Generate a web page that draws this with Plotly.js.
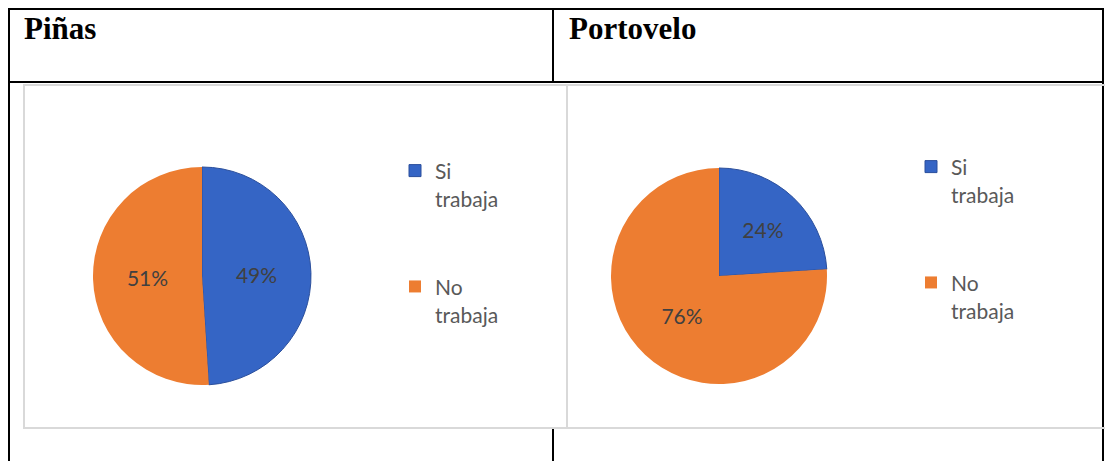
<!DOCTYPE html>
<html>
<head>
<meta charset="utf-8">
<script src="https://cdn.plot.ly/plotly-3.0.1.min.js"></script>
<style>
  html, body { margin: 0; padding: 0; background: #ffffff; }
  #chart { width: 1105px; height: 461px; }
</style>
</head>
<body>
<div id="chart"></div>
<script>
// ---- data ----
const headers = ["Piñas", "Portovelo"];
const categories = ["Si trabaja", "No trabaja"];
const pinasValues = [49, 51];
const portoveloValues = [24, 76];
const sliceColors = ["#3565c5", "#ED7D31"];

// ---- helpers (pixel -> paper) ----
const W = 1105, H = 461;
const px = x => x / W;
const py = y => 1 - y / H;

// legend labels: two visible lines + spacer lines (suffix keeps the two legends' entries distinct)
function legendLabels(suffix) {
  return categories.map(c =>
    '<span style="font-size:21px">' + c.replace(' ', '<br>') + '</span><br>&nbsp;<br>&nbsp;' + suffix
  );
}

function pieTrace(values, domain, legendId, suffix) {
  return {
    type: 'pie',
    labels: legendLabels(suffix),
    values: values,
    sort: false,
    direction: 'clockwise',
    rotation: 0,
    domain: domain,
    legend: legendId,
    marker: { colors: sliceColors, line: { color: ['#2b4f9c', '#ED7D31'], width: [1, 0] } },
    texttemplate: '%{value}%',
    textposition: 'inside',
    insidetextorientation: 'horizontal',
    textfont: { family: 'Lato', size: 21, color: '#404040' },
    hoverinfo: 'none',
    automargin: false
  };
}

const traces = [
  pieTrace(pinasValues, { x: [px(93), px(311)], y: [py(385), py(167)] }, 'legend', ''),
  pieTrace(portoveloValues, { x: [px(611), px(827)], y: [py(384), py(168)] }, 'legend2', '\u200b')
];

const black = { color: '#000000', width: 2 };
const gray = { color: '#d9d9d9', width: 2 };
function line(x0, y0, x1, y1, ln) {
  return { type: 'line', xref: 'paper', yref: 'paper', x0: px(x0), y0: py(y0), x1: px(x1), y1: py(y1), line: ln, layer: 'below' };
}
const shapes = [
  line(8, 9, 1104, 9, black),
  line(9, 8, 9, 461, black),
  line(1103, 8, 1103, 461, black),
  line(8, 82, 1104, 82, black),
  line(553, 8, 553, 82, black),
  line(553, 429, 553, 461, black),
  // chart frames
  { type: 'rect', xref: 'paper', yref: 'paper', x0: px(24), y0: py(428), x1: px(567), y1: py(85), line: gray, layer: 'below' },
  { type: 'rect', xref: 'paper', yref: 'paper', x0: px(567), y0: py(428), x1: px(1108), y1: py(85), line: gray, layer: 'below' }
];

const annotations = [
  { text: '<b>' + headers[0] + '</b>', xref: 'paper', yref: 'paper', x: px(22), y: py(29), xanchor: 'left', yanchor: 'middle', showarrow: false,
    font: { family: 'Liberation Serif', size: 31, color: '#000000' } },
  { text: '<b>' + headers[1] + '</b>', xref: 'paper', yref: 'paper', x: px(567), y: py(29), xanchor: 'left', yanchor: 'middle', showarrow: false,
    font: { family: 'Liberation Serif', size: 31, color: '#000000' } }
];

const legendBase = {
  xanchor: 'left', yanchor: 'top', bgcolor: 'rgba(0,0,0,0)', borderwidth: 0,
  valign: 'top', font: { family: 'Lato', size: 21.7, color: '#595959' }, itemclick: false, itemdoubleclick: false
};

const layout = {
  width: W, height: H,
  margin: { l: 0, r: 0, t: 0, b: 0 },
  paper_bgcolor: '#ffffff',
  showlegend: true,
  legend: Object.assign({}, legendBase, { x: px(395), y: py(150) }),
  legend2: Object.assign({}, legendBase, { x: px(911), y: py(146) }),
  shapes: shapes,
  annotations: annotations
};

Plotly.newPlot('chart', traces, layout, { staticPlot: true, displayModeBar: false });
</script>
</body>
</html>
